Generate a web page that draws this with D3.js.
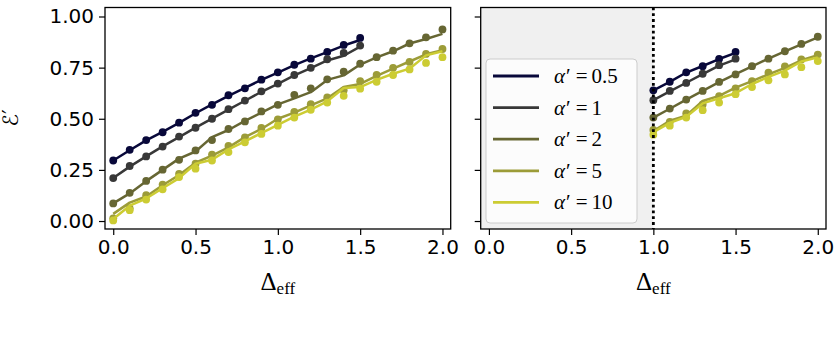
<!DOCTYPE html>
<html><head><meta charset="utf-8">
<script src="https://cdn.jsdelivr.net/npm/d3@7"></script>
<style>body{margin:0;background:#fff}svg{display:block}</style>
</head><body>
<svg id="c" width="840" height="345"></svg>
<script>
// ---- data ----
const deltas = [0.0,0.1,0.2,0.3,0.4,0.5,0.6,0.7,0.8,0.9,1.0,1.1,1.2,1.3,1.4,1.5,1.6,1.7,1.8,1.9,2.0];
const alphaLabels = ["0.5","1","2","5","10"];
const colors = ["#08083a","#383838","#666633","#9c9c38","#cccc33"];
const xTicks = [0.0,0.5,1.0,1.5,2.0];
const yTicks = [0.00,0.25,0.50,0.75,1.00];

// left panel: simulation points (dots) and lines
const leftDots05 = [0.296,0.348,0.396,0.434,0.481,0.529,0.568,0.615,0.649,0.691,0.727,0.764,0.794,0.827,0.861,0.895];
const leftDots1  = [0.210,0.269,0.316,0.364,0.413,0.456,0.500,0.547,0.589,0.634,0.672,0.714,0.749,0.791,0.822,0.858];
const leftDots2  = [0.086,0.138,0.196,0.251,0.299,0.345,0.396,0.450,0.487,0.536,0.568,0.617,0.649,0.693,0.730,0.769,0.801,0.833,0.869,0.898,0.937];
const leftDots5  = [0.013,0.062,0.126,0.178,0.231,0.280,0.325,0.367,0.409,0.455,0.497,0.534,0.571,0.604,0.639,0.684,0.714,0.749,0.778,0.817,0.841];
const leftDots10 = [0.003,0.053,0.105,0.155,0.215,0.256,0.296,0.337,0.385,0.426,0.466,0.506,0.544,0.579,0.612,0.647,0.681,0.714,0.741,0.773,0.801];
const leftLine05 = [0.296,0.346,0.394,0.436,0.480,0.527,0.570,0.612,0.651,0.690,0.726,0.762,0.795,0.826,0.858,0.885];
const leftLine1  = [0.210,0.266,0.316,0.365,0.410,0.457,0.501,0.545,0.588,0.632,0.671,0.712,0.748,0.785,0.808,0.853];
const leftLine2  = [0.086,0.135,0.195,0.250,0.305,0.340,0.410,0.445,0.490,0.530,0.570,0.600,0.630,0.690,0.712,0.765,0.800,0.830,0.868,0.890,0.915];
const leftLine5  = [0.035,0.090,0.120,0.175,0.225,0.285,0.320,0.360,0.410,0.450,0.500,0.530,0.565,0.600,0.655,0.670,0.710,0.745,0.780,0.815,0.835];
const leftLine10 = [0.010,0.075,0.110,0.160,0.210,0.280,0.300,0.350,0.390,0.430,0.470,0.510,0.545,0.585,0.650,0.655,0.690,0.720,0.745,0.810,0.830];

// right panel (starts at Δ_eff = 1.0)
const rightDots05 = [0.639,0.681,0.727,0.757,0.793,0.827];
const rightDots1  = [0.591,0.636,0.675,0.720,0.762,0.794];
const rightDots2  = [0.506,0.550,0.594,0.636,0.680,0.717,0.757,0.794,0.830,0.866,0.901];
const rightDots5  = [0.445,0.485,0.526,0.570,0.610,0.649,0.684,0.725,0.756,0.790,0.814];
const rightDots10 = [0.422,0.466,0.506,0.542,0.579,0.620,0.655,0.688,0.717,0.752,0.782];
const rightLine05 = [0.639,0.680,0.726,0.758,0.792,0.822];
const rightLine1  = [0.591,0.634,0.676,0.718,0.760,0.790];
const rightLine2  = [0.506,0.549,0.594,0.636,0.679,0.718,0.756,0.794,0.830,0.864,0.898];
const rightLine5  = [0.440,0.490,0.515,0.587,0.612,0.652,0.684,0.717,0.749,0.786,0.811];
const rightLine10 = [0.435,0.480,0.510,0.575,0.600,0.625,0.670,0.705,0.735,0.780,0.800];

const shadeEnd = 1.0;

// ---- drawing ----
const svg = d3.select("#c");
const plotTop = 7.5, plotBottom = 229;
const panels = [
  {x0:105, x1:450.7, dots:[leftDots05,leftDots1,leftDots2,leftDots5,leftDots10],
   lines:[leftLine05,leftLine1,leftLine2,leftLine5,leftLine10], start:0, ylabels:true, shade:false},
  {x0:480.7, x1:826, dots:[rightDots05,rightDots1,rightDots2,rightDots5,rightDots10],
   lines:[rightLine05,rightLine1,rightLine2,rightLine5,rightLine10], start:10, ylabels:false, shade:true}
];
const y = d3.scaleLinear().domain([-0.039,1.044]).range([plotBottom, plotTop]);
const tickFont = "DejaVu Sans, sans-serif";
const mathFont = "'DejaVu Serif', 'Liberation Serif', serif";

panels.forEach(p => {
  const x = d3.scaleLinear().domain([-0.05,2.05]).range([p.x0, p.x1]);
  const g = svg.append("g");
  if (p.shade) {
    g.append("rect").attr("x", x.range()[0]).attr("y", plotTop)
      .attr("width", x(shadeEnd) - x.range()[0]).attr("height", plotBottom - plotTop)
      .attr("fill", "#f0f0f0");
  }
  const line = d3.line().x(d => x(d[0])).y(d => y(d[1]));
  p.lines.forEach((arr, k) => {
    const pts = arr.map((v,i) => [deltas[p.start+i], v]);
    g.append("path").datum(pts).attr("d", line).attr("fill","none")
      .attr("stroke", colors[k]).attr("stroke-width", 2.5).attr("stroke-linejoin","round");
    const dArr = p.dots[k].map((v,i) => [deltas[p.start+i], v]);
    g.selectAll(null).data(dArr).enter().append("circle")
      .attr("cx", d => x(d[0])).attr("cy", d => y(d[1])).attr("r", 3.9).attr("fill", colors[k]);
  });
  if (p.shade) {
    g.append("line").attr("x1", x(shadeEnd)).attr("x2", x(shadeEnd))
      .attr("y1", plotTop).attr("y2", plotBottom).attr("stroke","#000")
      .attr("stroke-width", 2.8).attr("stroke-dasharray","2.8,3");
  }
  // axes
  const xa = g.append("g").attr("transform", `translate(0,${plotBottom})`)
    .call(d3.axisBottom(x).tickValues(xTicks).tickFormat(d3.format(".1f")).tickSize(6).tickPadding(5));
  const ya = g.append("g").attr("transform", `translate(${p.x0},0)`)
    .call(d3.axisLeft(y).tickValues(yTicks).tickFormat(p.ylabels ? d3.format(".2f") : () => "").tickSize(6).tickPadding(5));
  [xa, ya].forEach(a => {
    a.select(".domain").remove();
    a.selectAll(".tick line").attr("stroke","#000").attr("stroke-width",1.2);
    a.selectAll("text").attr("font-family", tickFont).attr("font-size", 20).attr("fill","#000");
  });
  // frame
  g.append("rect").attr("x", p.x0).attr("y", plotTop).attr("width", p.x1 - p.x0).attr("height", plotBottom - plotTop)
    .attr("fill","none").attr("stroke","#000").attr("stroke-width",1.3);
  // x label
  const xl = g.append("text").attr("x", (p.x0+p.x1)/2).attr("y", 290)
    .attr("text-anchor","middle").attr("font-family", "'Liberation Serif', serif").attr("fill","#000");
  xl.append("tspan").attr("font-size", 25).text("Δ");
  xl.append("tspan").attr("font-size", 17).attr("dy", 4).text("eff");

  // legend
  if (p.shade) {
    const lg = g.append("g");
    lg.append("rect").attr("x", 486).attr("y", 59).attr("width", 151).attr("height", 164)
      .attr("rx", 4).attr("fill", "#ffffff").attr("fill-opacity", 0.8)
      .attr("stroke", "#cccccc").attr("stroke-width", 1);
    alphaLabels.forEach((lab, k) => {
      const yy = 76 + k * 31.6;
      lg.append("line").attr("x1", 493).attr("x2", 539).attr("y1", yy).attr("y2", yy)
        .attr("stroke", colors[k]).attr("stroke-width", 2.8);
      const t = lg.append("text").attr("x", 554).attr("y", yy + 7)
        .attr("font-family", "'Liberation Serif', serif").attr("font-size", 21).attr("fill", "#000");
      t.append("tspan").attr("font-style","italic").text("α");
      t.append("tspan").attr("dx", 1).text("′");
      t.append("tspan").attr("dx", 5).text("=");
      t.append("tspan").attr("dx", 4).text(lab);
    });
  }
});

// y label
svg.append("text").attr("transform", "translate(18,118) rotate(-90)")
  .attr("text-anchor","middle").attr("font-family", "'DejaVu Sans', sans-serif").attr("font-size", 21)
  .attr("fill","#000").text("ℰ′");
</script>
</body></html>
